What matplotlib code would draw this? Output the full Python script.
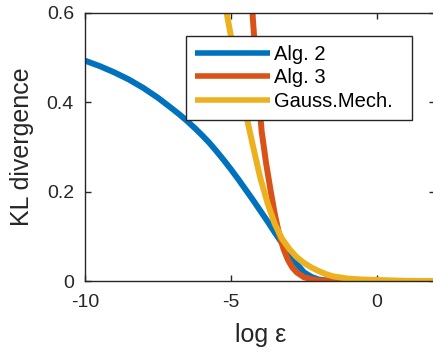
import matplotlib
matplotlib.use("Agg")
import matplotlib.pyplot as plt

plt.rcParams['font.family'] = ['Liberation Sans', 'DejaVu Sans']

# Alg. 2
x_alg2 = [-10, -9.5, -9, -8.5, -8, -7.5, -7, -6.75, -6.5, -6.25, -6, -5.75, -5.5,
          -5.25, -5, -4.75, -4.5, -4.25, -4, -3.75, -3.5, -3.25, -3, -2.75, -2.5,
          -2.25, -2, -1.75, -1.5, -1, 0, 1, 2]
y_alg2 = [0.493, 0.481, 0.467, 0.451, 0.432, 0.410, 0.385, 0.372, 0.358, 0.343,
          0.327, 0.310, 0.291, 0.271, 0.250, 0.228, 0.205, 0.182, 0.158, 0.134,
          0.109, 0.085, 0.061, 0.039, 0.020, 0.010, 0.004, 0.002, 0.001, 0.0,
          0.0, 0.0, 0.0]

# Alg. 3
x_alg3 = [-4.6, -4.4, -4.25, -4.1, -3.95, -3.8, -3.65, -3.5, -3.35, -3.2, -3.05,
          -2.9, -2.75, -2.5, -2.25, -2, -1.5, -1, 0, 1, 2]
y_alg3 = [1.0, 0.75, 0.585, 0.45, 0.335, 0.265, 0.205, 0.150, 0.105, 0.072,
          0.048, 0.031, 0.020, 0.009, 0.005, 0.002, 0.0005, 0.0, 0.0, 0.0, 0.0]

# Gauss.Mech.
x_gauss = [-5.4, -5.15, -5.0, -4.75, -4.5, -4.25, -4.0, -3.75, -3.5, -3.25, -3.0,
           -2.75, -2.5, -2.25, -2.0, -1.75, -1.5, -1.0, -0.5, 0, 0.5, 1, 2]
y_gauss = [0.70, 0.60, 0.547, 0.460, 0.377, 0.303, 0.232, 0.175, 0.128, 0.095,
           0.072, 0.054, 0.041, 0.031, 0.023, 0.016, 0.011, 0.006, 0.004, 0.003,
           0.002, 0.001, 0.0005]

labels = ['Alg. 2', 'Alg. 3', 'Gauss.Mech.']
colors = ['#0072BD', '#D95319', '#EDB120']
xticks = [-10, -5, 0]
yticks = [0, 0.2, 0.4, 0.6]
ytick_labels = ['0', '0.2', '0.4', '0.6']

axc = '#262626'
fig = plt.figure(figsize=(4.33, 3.56), dpi=100)
ax = fig.add_axes([85/433, (356-281.3)/356, (435.4-85)/433, (281.3-12.8)/356])

for xs, ys, c, lab in zip([x_alg2, x_alg3, x_gauss], [y_alg2, y_alg3, y_gauss], colors, labels):
    ax.plot(xs, ys, color=c, lw=4.3, label=lab, solid_capstyle='butt')

ax.set_xlim(-10, 2)
ax.set_ylim(0, 0.6)
ax.set_xticks(xticks)
ax.set_xticklabels([str(t) for t in xticks])
ax.set_yticks(yticks)
ax.set_yticklabels(ytick_labels)
ax.tick_params(direction='in', length=4, width=1, colors=axc, labelsize=14,
               top=True, right=True)
ax.tick_params(axis='x', pad=9)
ax.tick_params(axis='y', pad=8)
for s in ax.spines.values():
    s.set_color(axc)
    s.set_linewidth(1.0)

ax.set_xlabel('log ε', fontsize=18, color=axc, labelpad=9)
ax.set_ylabel('KL divergence', fontsize=18, color=axc, labelpad=9)

leg = ax.legend(loc='upper left',
                bbox_to_anchor=(186/433, (356-119)/356, 226/433, 83/356),
                bbox_transform=fig.transFigure, mode='expand', fontsize=14.5,
                frameon=True, fancybox=False, borderaxespad=0, handlelength=3.7,
                handletextpad=0.2, labelspacing=0.22, borderpad=0.45)
leg.get_frame().set_edgecolor(axc)
leg.get_frame().set_linewidth(1.0)
leg.get_frame().set_alpha(1)
for line in leg.get_lines():
    line.set_linewidth(4.0)

fig.savefig('out.png', dpi=100)
